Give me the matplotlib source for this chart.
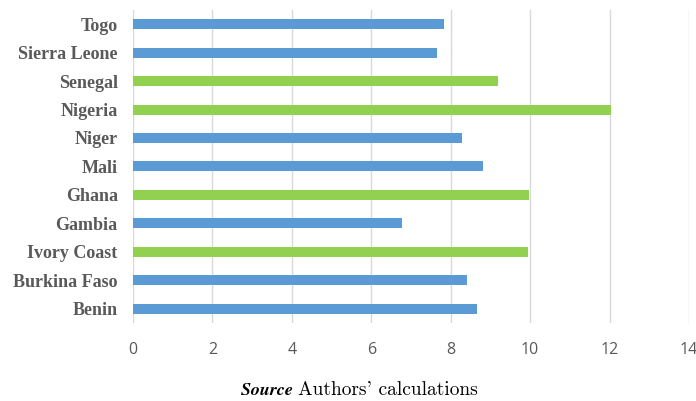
import matplotlib
matplotlib.use("Agg")
import matplotlib.pyplot as plt
import numpy as np

# countries listed bottom -> top as in the chart
countries = ["Benin", "Burkina Faso", "Ivory Coast", "Gambia", "Ghana", "Mali",
             "Niger", "Nigeria", "Senegal", "Sierra Leone", "Togo"]
values = [8.66, 8.42, 9.95, 6.78, 9.97, 8.81, 8.28, 12.03, 9.20, 7.65, 7.84]
highlight = [False, False, True, False, True, False, False, True, True, False, False]
xticks = [0, 2, 4, 6, 8, 10, 12, 14]

BLUE = "#5B9BD5"
GREEN = "#92D050"
GREY = "#595959"

plt.rcParams["mathtext.fontset"] = "cm"

fig = plt.figure(figsize=(6.96, 4.01), dpi=100)
ax = fig.add_axes([0.191, 0.195, 0.799, 0.780])

y = np.arange(len(countries))
colors = [GREEN if h else BLUE for h in highlight]
ax.barh(y, values, height=0.35, color=colors, zorder=3)

ax.set_xlim(0, 14)
ax.set_ylim(-0.5, len(countries) - 0.5)
ax.set_xticks(xticks)
ax.set_xticklabels([str(t) for t in xticks], fontsize=11.5, color=GREY, family="Open Sans")
ax.set_yticks(y)
ax.set_yticklabels(countries, fontsize=13, color=GREY, family="Liberation Serif",
                   fontweight="bold")
ax.tick_params(axis="both", length=0)
ax.tick_params(axis="x", pad=14)
ax.tick_params(axis="y", pad=11)

ax.grid(axis="x", color="#D9D9D9", linewidth=1, zorder=0)
for s in ax.spines.values():
    s.set_visible(False)

# source note
fig.text(293 / 696, 0.027, r"$\mathbfit{Source}$", ha="right", va="center", fontsize=13)
fig.text(298 / 696, 0.027, "Authors' calculations", ha="left", va="center",
         fontsize=14, family="cmr10")

fig.savefig("out.png", dpi=100)
